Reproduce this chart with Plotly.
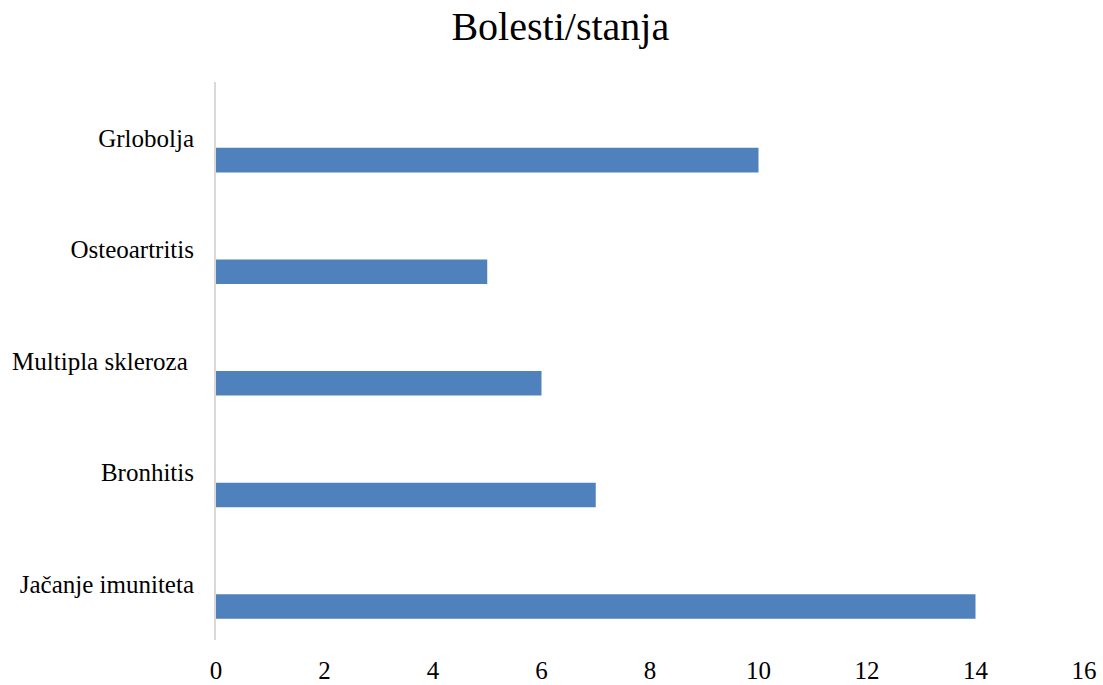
import plotly.graph_objects as go

# Categories listed bottom-to-top as they appear on the y axis
categories = ["Jačanje imuniteta", "Bronhitis", "Multipla skleroza\u00a0", "Osteoartritis", "Grlobolja"]
counts = [14, 7, 6, 5, 10]
x_ticks = [0, 2, 4, 6, 8, 10, 12, 14, 16]

FONT = "Liberation Serif"

fig = go.Figure(
    go.Bar(
        x=counts,
        y=categories,
        orientation="h",
        marker=dict(color="#4F81BD", line=dict(width=0)),
        width=0.22,
        offset=-0.31,
        hoverinfo="x+y",
    )
)

fig.update_layout(
    width=1103,
    height=685,
    margin=dict(l=216, r=19, t=82, b=45, autoexpand=False),
    paper_bgcolor="white",
    plot_bgcolor="white",
    showlegend=False,
    title=dict(
        text="Bolesti/stanja",
        font=dict(family=FONT, size=40, color="#000000"),
        x=0.508,
        xanchor="center",
        y=0.962,
        yanchor="middle",
    ),
    font=dict(family=FONT, size=25, color="#000000"),
)

fig.update_xaxes(
    range=[0, 16],
    tickvals=x_ticks,
    ticktext=[str(v) for v in x_ticks],
    showgrid=False,
    zeroline=False,
    showline=False,
    automargin=False,
    ticks="outside",
    ticklen=8,
    tickcolor="rgba(0,0,0,0)",
    tickfont=dict(family=FONT, size=25, color="#000000"),
)

fig.update_yaxes(
    type="category",
    categoryorder="array",
    categoryarray=categories,
    range=[-0.5, 4.5],
    showgrid=False,
    zeroline=False,
    showline=True,
    automargin=False,
    linecolor="#D9D9D9",
    linewidth=2,
    ticks="outside",
    ticklen=15,
    tickcolor="rgba(0,0,0,0)",
    tickfont=dict(family=FONT, size=25, color="#000000"),
)

fig.write_html("out.html")
